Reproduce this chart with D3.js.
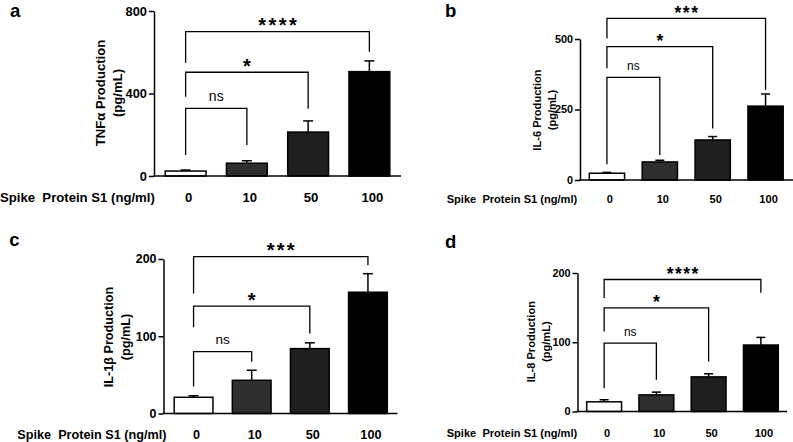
<!DOCTYPE html>
<html><head><meta charset="utf-8">
<script src="https://cdn.jsdelivr.net/npm/d3@7"></script>
<style>body{margin:0;background:#fff}svg{display:block}</style>
</head><body>
<svg id="chart" width="793" height="442"></svg>
<script>
const categories = ["0", "10", "50", "100"];
const xTitle = "Spike  Protein S1 (ng/ml)";
const barColors = ["#ffffff", "#2e2e2e", "#1f1f1f", "#000000"];

// a: TNF-alpha
const tnfMean = [24, 62, 213, 506];
const tnfSem = [5, 12, 54, 52];
const tnfTicks = [0, 400, 800];
// [from, to, label, line value, left leg end, right leg end]
const tnfBrackets = [[0, 1, "ns", 328, 102, 150], [0, 2, "*", 503, 384, 326], [0, 3, "****", 700, 549, 603]];

// b: IL-6
const il6Mean = [24, 64, 142, 262];
const il6Sem = [3, 6, 12, 43];
const il6Ticks = [0, 250, 500];
const il6Brackets = [[0, 1, "ns", 364, 56, 89], [0, 2, "*", 473, 396, 183], [0, 3, "***", 573, 502, 319]];

// c: IL-1beta
const il1bMean = [21, 43, 84, 157];
const il1bSem = [2, 13, 7.5, 24];
const il1bTicks = [0, 100, 200];
const il1bBrackets = [[0, 1, "ns", 80, 35, 67], [0, 2, "*", 139, 111.5, 103.7], [0, 3, "***", 203, 155.5, 192]];

// d: IL-8
const il8Mean = [14, 24, 50, 96];
const il8Sem = [3, 4, 4.5, 11];
const il8Ticks = [0, 100, 200];
const il8Brackets = [[0, 1, "ns", 98.6, 33.6, 45.7], [0, 2, "*", 149.6, 115.7, 72.2], [0, 3, "****", 190.6, 164, 171.3]];

const FONT = "'Liberation Sans', Arial, Helvetica, sans-serif";

const panels = [
  {letter: "a", title: ["TNF\u03B1 Production", "(pg/mL)"], mean: tnfMean, sem: tnfSem, ticks: tnfTicks, brackets: tnfBrackets,
   axisX: 154, xRange: [155, 400], xEnd: 401, yRange: [176, 11], rowW: 155, titleX: [100, 117.5], titleY: 93,
   letterPos: [10, 16.5], rowY: 197.5, rowX: 0, starFs: 20, starSp: 2.5, nsFs: 14, cap: 5, labOff: 11},
  {letter: "b", title: ["IL-6 Production", "(pg/mL)"], mean: il6Mean, sem: il6Sem, ticks: il6Ticks, brackets: il6Brackets,
   axisX: 580, xRange: [580.5, 792], xEnd: 793, yRange: [180, 39], rowW: 130.6, titleX: [537, 552], titleY: 110,
   letterPos: [445, 16.5], rowY: 199, rowX: 446.7, starFs: 17.5, starSp: 1.5, nsFs: 12, cap: 4.5, labOff: 10},
  {letter: "c", title: ["IL-1\u03B2 Production", "(pg/mL)"], mean: il1bMean, sem: il1bSem, ticks: il1bTicks, brackets: il1bBrackets,
   axisX: 163.5, xRange: [164.5, 397], xEnd: 397.5, yRange: [413.5, 259], rowW: 149.4, titleX: [109, 126], titleY: 337,
   letterPos: [9.3, 245.7], rowY: 435, rowX: 17.3, starFs: 20, starSp: 2.2, nsFs: 13.5, cap: 5, labOff: 11},
  {letter: "d", title: ["IL-8 Production", "(pg/mL)"], mean: il8Mean, sem: il8Sem, ticks: il8Ticks, brackets: il8Brackets,
   axisX: 577.5, xRange: [578, 787], xEnd: 787, yRange: [411.5, 273], rowW: 130.6, titleX: [530.5, 545.5], titleY: 341.7,
   letterPos: [445, 248.3], rowY: 433, rowX: 446.7, starFs: 17.5, starSp: 1.5, nsFs: 12, cap: 4.5, labOff: 10}
];

const svg = d3.select("#chart").style("font-family", FONT);
svg.append("rect").attr("width", 793).attr("height", 442).attr("fill", "#fff");

function fitSize(text, target) {
  const t = svg.append("text").attr("font-size", 100).attr("font-weight", "bold")
    .attr("xml:space", "preserve").style("white-space", "pre").text(text);
  const w = t.node().getComputedTextLength();
  t.remove();
  return 100 * target / w;
}

panels.forEach(p => {
  const fs = fitSize(xTitle, p.rowW);
  const g = svg.append("g");
  const x = d3.scaleBand().domain(categories).range(p.xRange).paddingInner(1 / 3).paddingOuter(1 / 6);
  const y = d3.scaleLinear().domain([0, d3.max(p.ticks)]).range(p.yRange);
  const cx = c => x(c) + x.bandwidth() / 2;

  // panel letter
  g.append("text").attr("x", p.letterPos[0]).attr("y", p.letterPos[1])
    .attr("font-size", 18.5).attr("font-weight", "bold").text(p.letter);

  // error bars (upper only)
  const eb = g.append("g").attr("stroke", "#000").attr("stroke-width", 1.5).attr("fill", "none");
  categories.forEach((c, i) => {
    const top = y(p.mean[i] + p.sem[i]);
    eb.append("line").attr("x1", cx(c)).attr("x2", cx(c)).attr("y1", y(p.mean[i])).attr("y2", top);
    eb.append("line").attr("x1", cx(c) - p.cap).attr("x2", cx(c) + p.cap).attr("y1", top).attr("y2", top);
  });

  // bars
  g.append("g").selectAll("rect").data(categories).join("rect")
    .attr("x", c => x(c)).attr("width", x.bandwidth())
    .attr("y", (c, i) => y(p.mean[i]))
    .attr("height", (c, i) => y(0) - y(p.mean[i]))
    .attr("fill", (c, i) => barColors[i])
    .attr("stroke", "#000").attr("stroke-width", 1.5);

  // y axis
  const ax = g.append("g").attr("transform", `translate(${p.axisX},0)`)
    .call(d3.axisLeft(y).tickValues(p.ticks).tickSize(5).tickSizeOuter(0).tickPadding(2));
  ax.select(".domain").attr("stroke-width", 1.5);
  ax.selectAll(".tick line").attr("stroke-width", 1.5);
  ax.selectAll(".tick text").attr("font-family", FONT).attr("font-size", fs * 0.98)
    .attr("font-weight", "bold").attr("fill", "#000");

  // x baseline
  g.append("line").attr("x1", p.axisX - 0.75).attr("x2", p.xEnd).attr("y1", y(0)).attr("y2", y(0))
    .attr("stroke", "#000").attr("stroke-width", 1.5);

  // y title
  const yt = g.append("g");
  p.title.forEach((t, k) => {
    yt.append("text").attr("transform", `translate(${p.titleX[k]},${p.titleY}) rotate(-90)`)
      .attr("text-anchor", "middle").attr("dominant-baseline", "central")
      .attr("font-size", fs).attr("font-weight", "bold").text(t);
  });

  // x row labels
  g.append("text").attr("x", p.rowX).attr("y", p.rowY).attr("dominant-baseline", "central")
    .attr("font-size", fs).attr("font-weight", "bold")
    .attr("xml:space", "preserve").style("white-space", "pre").text(xTitle);
  g.append("g").selectAll("text").data(categories).join("text")
    .attr("x", c => cx(c) + 3).attr("y", p.rowY).attr("text-anchor", "middle").attr("dominant-baseline", "central")
    .attr("font-size", fs).attr("font-weight", "bold").text(c => c);

  // significance brackets
  const bg = g.append("g");
  p.brackets.forEach(b => {
    const xl = cx(categories[b[0]]), xr = cx(categories[b[1]]);
    const ly = y(b[3]);
    bg.append("path").attr("d", `M${xl},${y(b[4])}V${ly}H${xr}V${y(b[5])}`)
      .attr("fill", "none").attr("stroke", "#000").attr("stroke-width", 1.3);
    const mid = (xl + xr) / 2, cy = ly - p.labOff;
    if (b[2] === "ns") {
      bg.append("text").attr("x", mid).attr("y", cy + 0.26 * p.nsFs).attr("text-anchor", "middle")
        .attr("font-size", p.nsFs).text("ns");
    } else {
      bg.append("text").attr("x", mid + p.starSp / 2).attr("y", cy + 0.585 * p.starFs).attr("text-anchor", "middle")
        .attr("font-size", p.starFs).attr("font-weight", "bold").attr("letter-spacing", p.starSp).text(b[2]);
    }
  });
});
</script>
</body></html>
